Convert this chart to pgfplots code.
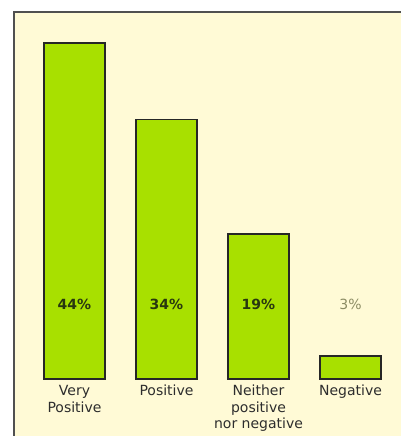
\documentclass[border=0pt]{standalone}
\usepackage{pgfplots}
\pgfplotsset{compat=1.18}
\usepackage{fontspec}
\setmainfont{DejaVu Sans}
\usetikzlibrary{backgrounds}
\definecolor{cream}{RGB}{255,250,214}
\definecolor{barfill}{RGB}{168,224,0}
\definecolor{framec}{RGB}{80,80,80}
\definecolor{pct}{RGB}{40,55,15}
\definecolor{pctlight}{RGB}{140,140,100}
\definecolor{lbl}{RGB}{45,45,45}
\begin{document}
\begin{tikzpicture}
\begin{axis}[
 scale only axis, width=300.75pt, height=284.25pt,
 xmin=0, xmax=401, ymin=0, ymax=49.607,
 axis line style={draw=none}, ytick=\empty,
 xtick={74.5,166.5,258.5,350.5}, major tick length=0pt,
 xticklabels={Very\\Positive, Positive, Neither\\positive\\nor negative, Negative},
 xticklabel style={align=center, font=\fontsize{10.5}{12.4}\selectfont, text=lbl, inner sep=0pt, yshift=-4.5pt},
 clip=false,
]
\addplot[ybar, bar width=61, fill=barfill, draw=black!85, line width=1pt]
  coordinates {(74.5,44) (166.5,34) (258.5,19) (350.5,3)};
\addplot[only marks, mark=*, mark size=0pt, mark options={draw=none,fill=none},
  nodes near coords, point meta=explicit symbolic,
  every node near coord/.style={font=\bfseries\fontsize{10.5}{12}\selectfont, text=pct, anchor=center}]
  coordinates {(74.5,9.7) [44\%] (166.5,9.7) [34\%] (258.5,9.7) [19\%]};
\addplot[only marks, mark=*, mark size=0pt, mark options={draw=none,fill=none},
  nodes near coords, point meta=explicit symbolic,
  every node near coord/.style={font=\fontsize{10.5}{12}\selectfont, text=pctlight, anchor=center}]
  coordinates {(350.5,9.7) [3\%]};
\coordinate (fbl) at (axis cs:14,-7.46);
\coordinate (ftl) at (axis cs:14,48.04);
\coordinate (ftr) at (axis cs:401,48.04);
\coordinate (ibl) at (axis cs:0,-7.46);
\coordinate (itr) at (axis cs:401,49.607);
\end{axis}
\begin{pgfonlayer}{background}
\fill[cream] (fbl) rectangle (ftr);
\end{pgfonlayer}
\draw[framec, line width=1pt] (fbl) -- (ftl) -- (ftr);
\pgfresetboundingbox
\path[use as bounding box] (ibl) rectangle (itr);
\end{tikzpicture}
\end{document}
